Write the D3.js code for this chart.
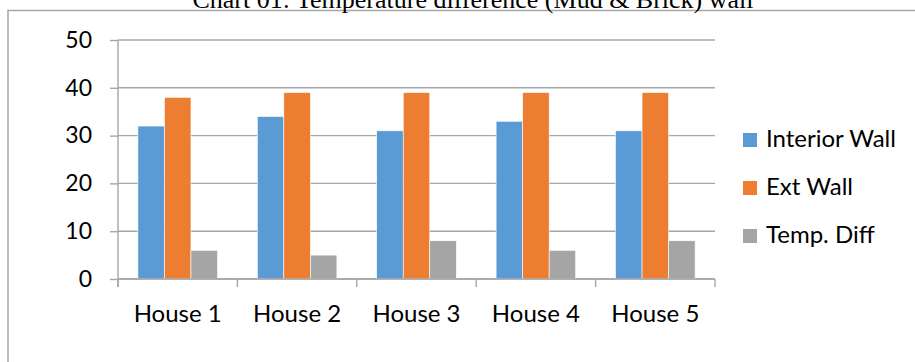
<!DOCTYPE html>
<html>
<head>
<meta charset="utf-8">
<script src="https://cdn.jsdelivr.net/npm/d3@7"></script>
<style>
  html, body { margin: 0; padding: 0; background: #fff; }
  svg { display: block; }
</style>
</head>
<body>
<svg id="chart" width="915" height="362"></svg>
<script>
const title = "Chart 01: Temperature difference (Mud & Brick) wall";
const categories = ["House 1", "House 2", "House 3", "House 4", "House 5"];
const seriesNames = ["Interior Wall", "Ext Wall", "Temp. Diff"];
const interiorWall = [32, 34, 31, 33, 31];
const extWall = [38, 39, 39, 39, 39];
const tempDiff = [6, 5, 8, 6, 8];
const yTicks = [0, 10, 20, 30, 40, 50];
const colors = ["#5b9bd5", "#ed7d31", "#a5a5a5"];

const seriesValues = [interiorWall, extWall, tempDiff];
const svg = d3.select("#chart");
const sans = "Lato, 'Noto Sans', sans-serif";

// chart frame
svg.append("rect")
  .attr("x", 8).attr("y", 10.5)
  .attr("width", 930).attr("height", 400)
  .attr("fill", "none").attr("stroke", "#a6a6a6").attr("stroke-width", 1.5);

// title
svg.append("text")
  .attr("x", 473).attr("y", 7.5)
  .attr("text-anchor", "middle")
  .attr("font-family", "'Liberation Serif', 'Times New Roman', serif")
  .attr("font-size", 26)
  .attr("fill", "#000")
  .text(title);

const plot = { left: 118, right: 715, top: 40, bottom: 279 };

const y = d3.scaleLinear().domain([0, 50]).range([plot.bottom, plot.top]);
const x0 = d3.scaleBand().domain(categories).range([plot.left, plot.right]).paddingInner(0).paddingOuter(0);
const x1 = d3.scaleBand().domain(seriesNames).range([0, x0.bandwidth()]).paddingInner(0).paddingOuter(0.75);

// gridlines
svg.append("g").selectAll("line").data(yTicks).join("line")
  .attr("x1", plot.left).attr("x2", plot.right)
  .attr("y1", d => y(d)).attr("y2", d => y(d))
  .attr("stroke", "#a6a6a6").attr("stroke-width", 1.4);

// y axis
const yAxis = d3.axisLeft(y).tickValues(yTicks).tickSize(8).tickPadding(18).tickFormat(d3.format("d"));
const gy = svg.append("g").attr("transform", `translate(${plot.left},0)`).call(yAxis);
gy.select(".domain").remove();
gy.selectAll(".tick line").attr("stroke", "#a6a6a6").attr("stroke-width", 1.4);
gy.selectAll(".tick text").attr("font-family", sans).attr("font-size", 23).attr("fill", "#000");
svg.append("line")
  .attr("x1", plot.left).attr("x2", plot.left)
  .attr("y1", plot.top).attr("y2", plot.bottom + 8)
  .attr("stroke", "#a6a6a6").attr("stroke-width", 1.4);

// bars
const groups = svg.append("g").selectAll("g").data(categories).join("g")
  .attr("transform", d => `translate(${x0(d)},0)`);
groups.selectAll("rect")
  .data((c, i) => seriesNames.map((s, j) => ({ s, j, v: seriesValues[j][i] })))
  .join("rect")
  .attr("x", d => x1(d.s))
  .attr("width", x1.bandwidth())
  .attr("y", d => y(d.v))
  .attr("height", d => y(0) - y(d.v))
  .attr("fill", d => colors[d.j])
  .attr("stroke", "#ffffff").attr("stroke-width", 0.6);

// x axis
const xTickPositions = categories.map(c => x0(c)).concat([plot.right]);
svg.append("g").selectAll("line").data(xTickPositions).join("line")
  .attr("x1", d => d).attr("x2", d => d)
  .attr("y1", plot.bottom).attr("y2", plot.bottom + 8)
  .attr("stroke", "#a6a6a6").attr("stroke-width", 1.4);
svg.append("line")
  .attr("x1", plot.left).attr("x2", plot.right)
  .attr("y1", plot.bottom).attr("y2", plot.bottom)
  .attr("stroke", "#a6a6a6").attr("stroke-width", 1.4);
svg.append("g").selectAll("text").data(categories).join("text")
  .attr("x", d => x0(d) + x0.bandwidth() / 2)
  .attr("y", 321.5)
  .attr("text-anchor", "middle")
  .attr("font-family", sans).attr("font-size", 24).attr("fill", "#000")
  .text(d => d);

// legend
const legend = svg.append("g").selectAll("g").data(seriesNames).join("g")
  .attr("transform", (d, i) => `translate(743,${147 + i * 48})`);
legend.append("rect")
  .attr("x", 0).attr("y", -14).attr("width", 14).attr("height", 14)
  .attr("fill", (d, i) => colors[i]);
legend.append("text")
  .attr("x", 23).attr("y", 0)
  .attr("font-family", sans).attr("font-size", 24).attr("fill", "#000")
  .text(d => d);
</script>
</body>
</html>
